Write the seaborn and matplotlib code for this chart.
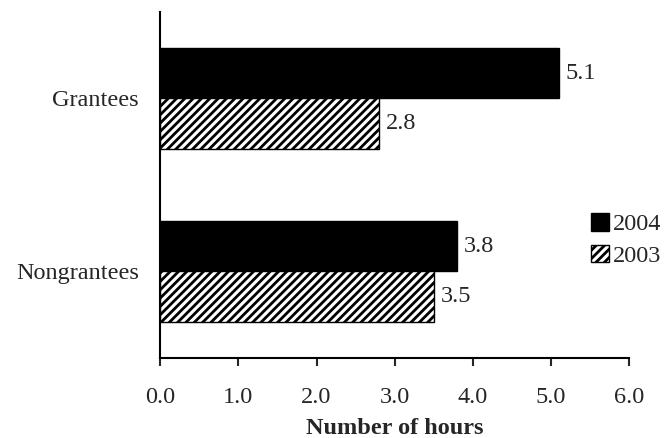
import matplotlib
matplotlib.use('Agg')
import matplotlib.pyplot as plt
import seaborn as sns
import pandas as pd

# Dữ liệu
categories = ['Grantees', 'Nongrantees']
years = ['2004', '2003']
hours_2004 = [5.1, 3.8]
hours_2003 = [2.8, 3.5]

df = pd.DataFrame({
    'Group': categories * 2,
    'Year': [years[0]] * 2 + [years[1]] * 2,
    'Hours': hours_2004 + hours_2003,
})

sns.set_style('white')
plt.rcParams['font.family'] = ['Liberation Serif', 'DejaVu Serif']
plt.rcParams['hatch.linewidth'] = 2.0
FS = 17.5

fig, ax = plt.subplots(figsize=(6.65, 4.38), dpi=100)
fig.subplots_adjust(left=0.241, right=0.946, top=0.973, bottom=0.183)

sns.barplot(data=df, x='Hours', y='Group', hue='Year', hue_order=years,
            order=categories, orient='h', palette=['black', 'white'],
            width=0.58, edgecolor='black', linewidth=1, ax=ax)

# Gạch chéo cho năm 2003
for bar in ax.containers[1]:
    bar.set_hatch('////')

for cont in ax.containers:
    ax.bar_label(cont, fmt='%.1f', padding=5, fontsize=FS)

ax.set_xlim(0, 6)
ax.set_xticks([0, 1, 2, 3, 4, 5, 6])
ax.set_xticklabels([f'{v:.1f}' for v in range(7)])
ax.tick_params(axis='x', bottom=True, length=6, width=1.5, direction='out', labelsize=FS, pad=15)
ax.tick_params(axis='y', left=False, labelsize=FS, pad=12)
ax.set_ylabel('')
ax.set_xlabel('Number of hours', fontsize=FS, fontweight='bold', labelpad=7)

for s in ['top', 'right']:
    ax.spines[s].set_visible(False)
for s in ['left', 'bottom']:
    ax.spines[s].set_linewidth(1.5)
    ax.spines[s].set_color('black')

leg = ax.legend(loc='center left', bbox_to_anchor=(591 / 665, 1 - 240 / 438),
                bbox_transform=fig.transFigure, frameon=False, borderpad=0,
                borderaxespad=0, fontsize=FS, handlelength=0.72, handleheight=0.72,
                handletextpad=0.2, labelspacing=0.38)
leg.legend_handles[1].set_hatch('////')

fig.savefig('out.png', dpi=100)
